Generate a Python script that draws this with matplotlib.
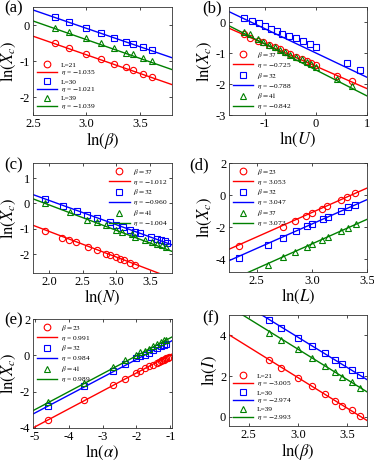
"""Six-panel log-log scaling plot: ln(X_c) / ln(I) against several parameters."""
import matplotlib
matplotlib.use("Agg")
import matplotlib.pyplot as plt
from matplotlib.lines import Line2D
import numpy as np

plt.rcParams["font.family"] = ["Liberation Serif", "DejaVu Serif"]
plt.rcParams["mathtext.fontset"] = "stix"
plt.rcParams["axes.unicode_minus"] = False

RED, BLUE, GREEN = "#ff0000", "#0000ff", "#008000"
COLORS = [RED, BLUE, GREEN]
MARKERS = ["o", "s", "^"]

# (a) ln(X_c) vs ln(beta)
a_x = [2.708, 2.833, 2.996, 3.135, 3.258, 3.367, 3.434, 3.526, 3.611]
a_L21 = [-0.51, -0.65, -0.81, -0.95, -1.08, -1.18, -1.25, -1.36, -1.44]
a_L30 = [0.23, 0.07, -0.07, -0.21, -0.35, -0.46, -0.53, -0.61, -0.69]
a_L39 = [-0.09, -0.20, -0.37, -0.51, -0.65, -0.77, -0.81, -0.91, -0.99]
a_slope = [-1.035, -1.021, -1.039]
a_icpt = [2.277, 2.97, 2.71]
a_names = ["L=21", "L=30", "L=39"]

# (b) ln(X_c) vs ln(U)
b_x37 = [-1.41, -1.28, -1.13, -1.03, -0.91, -0.80, -0.70, -0.60, -0.50, -0.38, -0.28, -0.17, -0.10, 0.01, 0.42, 0.70]
b_y37 = [-0.36, -0.49, -0.60, -0.65, -0.73, -0.80, -0.87, -0.95, -1.01, -1.11, -1.18, -1.25, -1.31, -1.38, -1.72, -1.91]
b_x32 = [-1.41, -1.25, -1.11, -0.99, -0.88, -0.77, -0.66, -0.52, -0.38, -0.25, -0.12, 0.01, 0.61, 0.87]
b_y32 = [0.13, 0.05, -0.03, -0.13, -0.22, -0.29, -0.36, -0.44, -0.52, -0.60, -0.71, -0.79, -1.31, -1.55]
b_x41 = [-1.41, -1.28, -1.13, -1.03, -0.91, -0.80, -0.70, -0.60, -0.50, -0.38, -0.28, -0.17, -0.10, 0.01, 0.42, 0.70]
b_y41 = [-0.31, -0.39, -0.55, -0.63, -0.72, -0.81, -0.89, -0.96, -1.04, -1.12, -1.20, -1.28, -1.36, -1.45, -1.83, -2.05]
b_slope = [-0.725, -0.788, -0.842]
b_icpt = [-1.42, -0.99, -1.54]
b_names = [r"$\beta = 37$", r"$\beta = 32$", r"$\beta = 41$"]

# (c) ln(X_c) vs ln(N)
c_x37 = [1.945, 2.185, 2.30, 2.40, 2.575, 2.72, 2.85, 2.91, 3.0, 3.06, 3.12, 3.21, 3.285]
c_y37 = [-1.07, -1.36, -1.46, -1.54, -1.73, -1.86, -1.99, -2.03, -2.12, -2.18, -2.25, -2.34, -2.44]
c_x32 = [1.945, 2.20, 2.41, 2.57, 2.72, 2.90, 3.00, 3.095, 3.20, 3.275, 3.36, 3.51, 3.61, 3.66, 3.72, 3.76]
c_y32 = [0.17, -0.09, -0.29, -0.44, -0.59, -0.72, -0.84, -0.94, -1.03, -1.11, -1.18, -1.31, -1.40, -1.44, -1.49, -1.55]
c_x41 = [1.945, 2.31, 2.57, 2.72, 2.85, 3.0, 3.085, 3.235, 3.285, 3.435, 3.535, 3.61, 3.685, 3.735]
c_y41 = [0.01, -0.35, -0.64, -0.72, -0.85, -1.03, -1.11, -1.20, -1.31, -1.44, -1.53, -1.59, -1.66, -1.73]
c_slope = [-1.012, -0.960, -1.004]
c_icpt = [0.918, 2.04, 1.95]
c_names = [r"$\beta = 37$", r"$\beta = 32$", r"$\beta = 41$"]

# (d) ln(X_c) vs ln(L)
d_x23 = [2.34, 2.74, 2.85, 2.95, 3.0, 3.09, 3.14, 3.26, 3.32, 3.39]
d_y23 = [-3.18, -1.97, -1.60, -1.30, -1.09, -0.84, -0.67, -0.31, -0.10, 0.10]
d_x32 = [2.34, 2.60, 2.74, 2.855, 2.955, 3.005, 3.10, 3.145, 3.26, 3.33, 3.39]
d_y32 = [-3.93, -3.10, -2.66, -2.26, -1.95, -1.78, -1.51, -1.36, -1.00, -0.77, -0.59]
d_x37 = [2.60, 2.74, 2.85, 2.955, 3.005, 3.09, 3.145, 3.26, 3.33, 3.40]
d_y37 = [-4.39, -3.87, -3.56, -3.24, -3.03, -2.78, -2.62, -2.26, -2.03, -1.82]
d_slope = [3.053, 3.047, 3.073]
d_icpt = [-10.25, -10.95, -12.27]
d_names = [r"$\beta = 23$", r"$\beta = 32$", r"$\beta = 37$"]

# (e) ln(X_c) vs ln(alpha)
e_x23 = [-4.605, -3.54, -2.68, -2.33, -2.0, -1.89, -1.76, -1.64, -1.51, -1.39,
         -1.32, -1.27, -1.24, -1.20, -1.16, -1.12, -1.08, -1.04]
e_y23 = [-3.55, -2.48, -1.64, -1.30, -0.95, -0.84, -0.71, -0.61, -0.52, -0.43,
         -0.35, -0.30, -0.27, -0.23, -0.19, -0.15, -0.12, -0.08]
e_x32 = [-4.605, -3.54, -2.68, -2.33, -2.0, -1.89, -1.76, -1.64, -1.51, -1.39, -1.27, -1.20, -1.12]
e_y32 = [-2.79, -1.67, -0.855, -0.48, -0.15, -0.06, 0.04, 0.13, 0.28, 0.41, 0.50, 0.56, 0.63]
e_x41 = [-4.605, -3.54, -2.68, -2.33, -2.0, -1.89, -1.76, -1.64, -1.51, -1.39, -1.27, -1.20, -1.12]
e_y41 = [-2.56, -1.51, -0.65, -0.28, 0.04, 0.17, 0.26, 0.37, 0.50, 0.63, 0.74, 0.82, 0.87]
e_slope = [0.991, 0.984, 0.989]
e_icpt = [1.01, 1.74, 1.95]
e_names = [r"$\beta = 23$", r"$\beta = 32$", r"$\beta = 41$"]

# (f) ln(I) vs ln(beta)
f_x = [2.71, 2.83, 3.0, 3.14, 3.27, 3.38, 3.45, 3.55, 3.63]
f_L21 = [2.77, 2.38, 1.90, 1.49, 1.11, 0.77, 0.55, 0.32, 0.03]
f_L30 = [4.74, 4.34, 3.88, 3.49, 3.11, 2.80, 2.60, 2.31, 2.03]
f_L39 = [4.14, 3.79, 3.32, 2.89, 2.51, 2.21, 1.97, 1.69, 1.44]
f_slope = [-3.005, -2.974, -2.993]
f_icpt = [10.94, 12.83, 12.30]
f_names = ["L=21", "L=30", "L=39"]


def panel(ax, series, slopes, icpts, names, xlim, ylim, xticks, yticks,
          xlabel, ylabel, loc):
    handles = []
    xs = np.array(xlim)
    for (x, y), k, b, name, c, m in zip(series, slopes, icpts, names, COLORS, MARKERS):
        ax.plot(x, y, ls="none", marker=m, ms=4.5, mfc="none", mec=c, mew=0.8)
        ax.plot(xs, k * xs + b, color=c, lw=1.0)
        handles.append(Line2D([], [], ls="none", marker=m, ms=4.8, mfc="none",
                              mec=c, mew=0.8, label=name))
        handles.append(Line2D([], [], color=c, lw=1.0,
                              label=r"$\eta$ = " + f"{k:.3f}".replace("-", r"$-$")))
    ax.set_xlim(xlim)
    ax.set_ylim(ylim)
    ax.set_xticks(xticks)
    ax.set_yticks(yticks)
    ax.set_xlabel(xlabel, fontsize=12, labelpad=0)
    ax.set_ylabel(ylabel, fontsize=12, labelpad=1)
    ax.tick_params(direction="in", length=2.5, width=0.5, labelsize=9,
                   top=True, right=True, pad=2)
    for s in ax.spines.values():
        s.set_linewidth(0.6)
        s.set_color("#333333")
    ax.legend(handles=handles, loc=loc, frameon=False, fontsize=5.3,
              handlelength=2.8, handletextpad=0.5, labelspacing=0.12,
              borderaxespad=0.3, borderpad=0.2)


fig = plt.figure(figsize=(3.74, 4.66), dpi=100)
W, H = 374, 466


def add_axes(x0, y0, x1, y1):
    return fig.add_axes([x0 / W, 1 - y1 / H, (x1 - x0) / W, (y1 - y0) / H])


ax_a = add_axes(33, 7, 172, 115)
ax_b = add_axes(229, 7, 367, 115)
ax_c = add_axes(33, 163, 172, 273)
ax_d = add_axes(229, 163, 367, 272)
ax_e = add_axes(33, 319, 172, 428)
ax_f = add_axes(229, 315, 367, 426)

panel(ax_a, [(a_x, a_L21), (a_x, a_L30), (a_x, a_L39)], a_slope, a_icpt, a_names,
      (2.5, 3.8), (-2.5, 0.5), [2.5, 3, 3.5], [-2, -1, 0],
      r"$\ln(\beta)$", r"$\ln(X_c)$", "lower left")
panel(ax_b, [(b_x37, b_y37), (b_x32, b_y32), (b_x41, b_y41)], b_slope, b_icpt, b_names,
      (-1.7, 1.0), (-3, 0.5), [-1, 0, 1], [-3, -2, -1, 0],
      r"$\ln(U)$", r"$\ln(X_c)$", "lower left")
panel(ax_c, [(c_x37, c_y37), (c_x32, c_y32), (c_x41, c_y41)], c_slope, c_icpt, c_names,
      (1.76, 3.83), (-2.75, 1.6), [2, 2.5, 3, 3.5], [-2, -1, 0, 1],
      r"$\ln(N)$", r"$\ln(X_c)$", "upper right")
panel(ax_d, [(d_x23, d_y23), (d_x32, d_y32), (d_x37, d_y37)], d_slope, d_icpt, d_names,
      (2.25, 3.5), (-4.8, 2), [2.5, 3, 3.5], [-4, -2, 0, 2],
      r"$\ln(L)$", r"$\ln(X_c)$", "upper left")
panel(ax_e, [(e_x23, e_y23), (e_x32, e_y32), (e_x41, e_y41)], e_slope, e_icpt, e_names,
      (-5.05, -0.95), (-4, 2), [-5, -4, -3, -2, -1], [-4, -2, 0, 2],
      r"$\ln(\alpha)$", r"$\ln(X_c)$", "upper left")
panel(ax_f, [(f_x, f_L21), (f_x, f_L30), (f_x, f_L39)], f_slope, f_icpt, f_names,
      (2.3, 3.7), (-0.45, 5), [2.5, 3, 3.5], [0, 2, 4],
      r"$\ln(\beta)$", r"$\ln(I)$", "lower left")

for lab, (px, py) in zip("abcdef", [(4, 8), (202, 8), (4, 165), (189, 165), (4, 320), (202, 318)]):
    fig.text(px / W, 1 - py / H, f"({lab})", fontsize=12, ha="left", va="center")

fig.savefig("out.png", dpi=100)
